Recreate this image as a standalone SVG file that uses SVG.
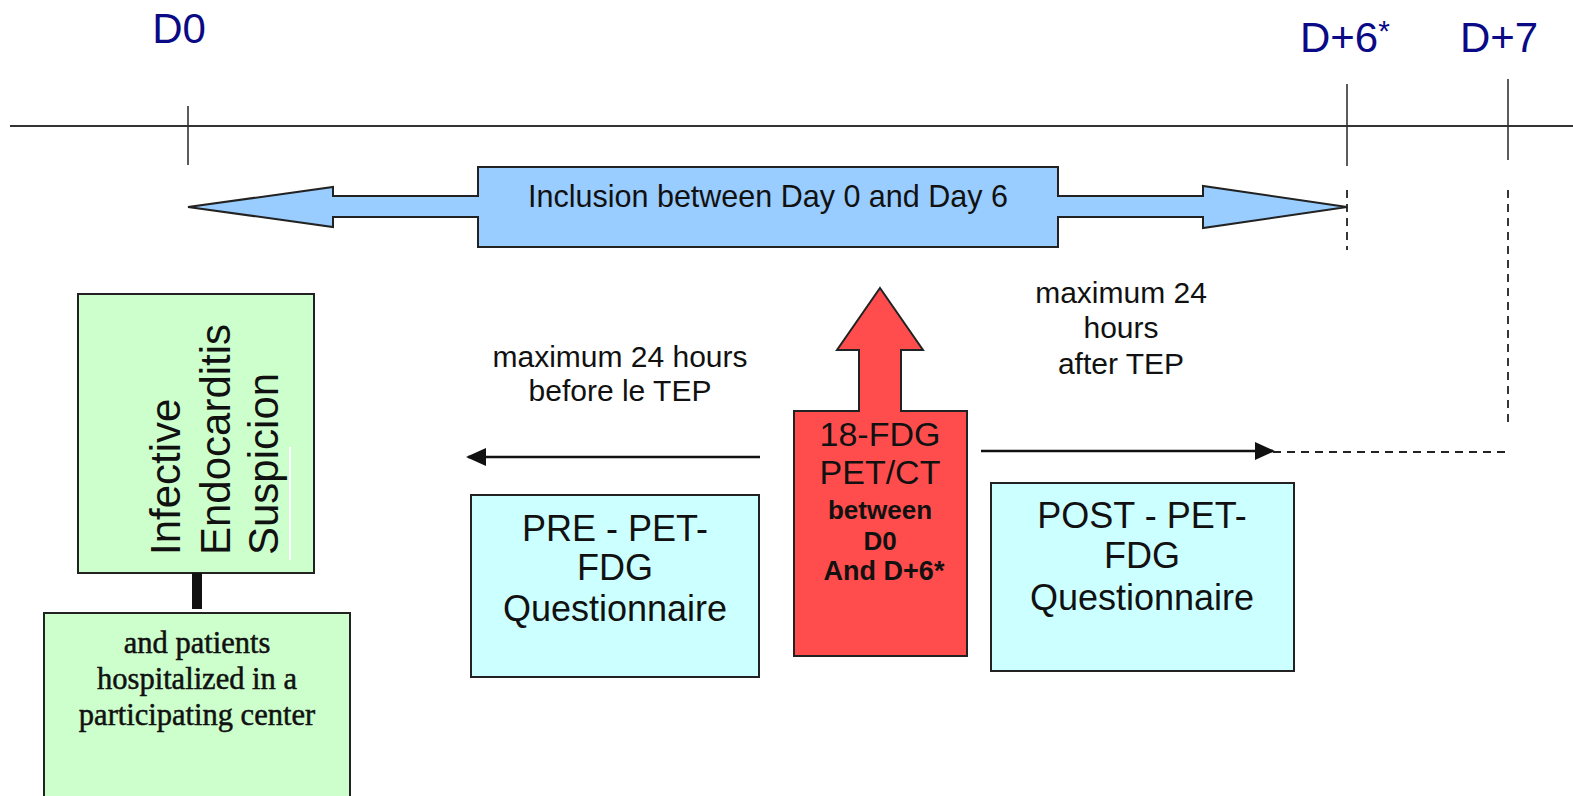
<svg xmlns="http://www.w3.org/2000/svg" width="1573" height="796" viewBox="0 0 1573 796">
  <style>
    .sans { font-family: "Liberation Sans", Arial, sans-serif; fill: #111; }
    .day { font-family: "Liberation Sans", Arial, sans-serif; font-size: 42px; fill: #0a0a86; }
    .box { stroke: #222; stroke-width: 2; }
    .axis { stroke: #333; stroke-width: 2; fill: none; }
    .tick { stroke: #333; stroke-width: 1.6; fill: none; }
    .dash { stroke: #222; stroke-width: 1.8; fill: none; stroke-dasharray: 8 6; }
    .conn { stroke: #111; stroke-width: 2.5; fill: none; }
  </style>
  <defs>
    <marker id="head" viewBox="0 0 20 20" refX="18" refY="10" markerWidth="20" markerHeight="20" markerUnits="userSpaceOnUse" orient="auto">
      <path d="M0,1 L20,10 L0,19 Z" fill="#111"/>
    </marker>
  </defs>

  <rect width="1573" height="796" fill="#ffffff"/>

  <!-- timeline axis with day markers -->
  <g id="timeline">
    <line class="axis" x1="10" y1="126" x2="1573" y2="126"/>
    <line class="tick" x1="188" y1="106" x2="188" y2="165"/>
    <line class="tick" x1="1347" y1="84" x2="1347" y2="166"/>
    <line class="tick" x1="1508" y1="79" x2="1508" y2="160"/>
    <text class="day" x="179" y="43" text-anchor="middle">D0</text>
    <text class="day" x="1300" y="52">D+6<tspan font-size="30" dy="-11">*</tspan></text>
    <text class="day" x="1499" y="52" text-anchor="middle">D+7</text>
  </g>

  <!-- inclusion window: double-headed arrow -->
  <g id="inclusion">
    <path class="box" fill="#99ccff" d="M188,207 L333,187 L333,196 L478,196 L478,167 L1058,167 L1058,196 L1203,196 L1203,186 L1347,207 L1203,228 L1203,217 L1058,217 L1058,247 L478,247 L478,217 L333,217 L333,227 Z"/>
    <text class="sans" x="768" y="207" font-size="30.5" text-anchor="middle">Inclusion between Day 0 and Day 6</text>
  </g>

  <!-- suspicion box -->
  <g id="suspicion">
    <rect class="box" x="78" y="294" width="236" height="279" fill="#ccffcc"/>
    <line x1="290" y1="447" x2="290" y2="560" stroke="#ffffff" stroke-width="2"/>
    <g class="sans" font-size="42">
      <text transform="translate(180,555) rotate(-90)">Infective</text>
      <text transform="translate(230,555) rotate(-90)">Endocarditis</text>
      <text transform="translate(278,555) rotate(-90)">Suspicion</text>
    </g>
  </g>

  <!-- hospitalized patients box -->
  <g id="patients">
    <rect class="box" x="44" y="613" width="306" height="200" fill="#ccffcc"/>
    <g font-family="'Liberation Serif', 'Times New Roman', serif" font-size="30.5" fill="#111" stroke="#111" stroke-width="0.5" text-anchor="middle">
      <text x="197" y="653">and patients</text>
      <text x="197" y="689">hospitalized in a</text>
      <text x="197" y="725">participating center</text>
    </g>
  </g>

  <!-- PET/CT exam -->
  <g id="petct">
    <path class="box" fill="#ff4d4d" d="M880,288 L923,350 L901,350 L901,411 L967,411 L967,656 L794,656 L794,411 L859,411 L859,350 L837,350 Z"/>
    <g class="sans" text-anchor="middle">
      <text x="880" y="446" font-size="34">18-FDG</text>
      <text x="880" y="484" font-size="34">PET/CT</text>
      <text x="880" y="519" font-size="26" font-weight="bold">between</text>
      <text x="880" y="550" font-size="26" font-weight="bold">D0</text>
      <text x="884" y="580" font-size="27" font-weight="bold">And D+6*</text>
    </g>
  </g>

  <!-- pre questionnaire -->
  <g id="pre">
    <rect class="box" x="471" y="495" width="288" height="182" fill="#ccffff"/>
    <g class="sans" font-size="36" text-anchor="middle">
      <text x="615" y="541">PRE - PET-</text>
      <text x="615" y="580">FDG</text>
      <text x="615" y="621">Questionnaire</text>
    </g>
  </g>

  <!-- post questionnaire -->
  <g id="post">
    <rect class="box" x="991" y="483" width="303" height="188" fill="#ccffff"/>
    <g class="sans" font-size="36" text-anchor="middle">
      <text x="1142" y="528">POST - PET-</text>
      <text x="1142" y="568">FDG</text>
      <text x="1142" y="610">Questionnaire</text>
    </g>
  </g>

  <!-- delay labels -->
  <g id="labels" class="sans" font-size="30" text-anchor="middle">
    <text x="620" y="367">maximum 24 hours</text>
    <text x="620" y="401">before le TEP</text>
    <text x="1121" y="303">maximum 24</text>
    <text x="1121" y="338">hours</text>
    <text x="1121" y="374">after TEP</text>
  </g>

  <!-- connectors -->
  <g id="connectors">
    <rect x="192" y="573" width="10" height="36" fill="#111"/>
    <line class="conn" x1="760" y1="457" x2="468" y2="457" marker-end="url(#head)"/>
    <line class="conn" x1="981" y1="451" x2="1273" y2="451" marker-end="url(#head)"/>
    <line class="dash" x1="1273" y1="452" x2="1508" y2="452" stroke-dasharray="9 6"/>
    <line class="dash" x1="1508" y1="190" x2="1508" y2="424"/>
    <line class="dash" x1="1347" y1="190" x2="1347" y2="250"/>
  </g>
</svg>
